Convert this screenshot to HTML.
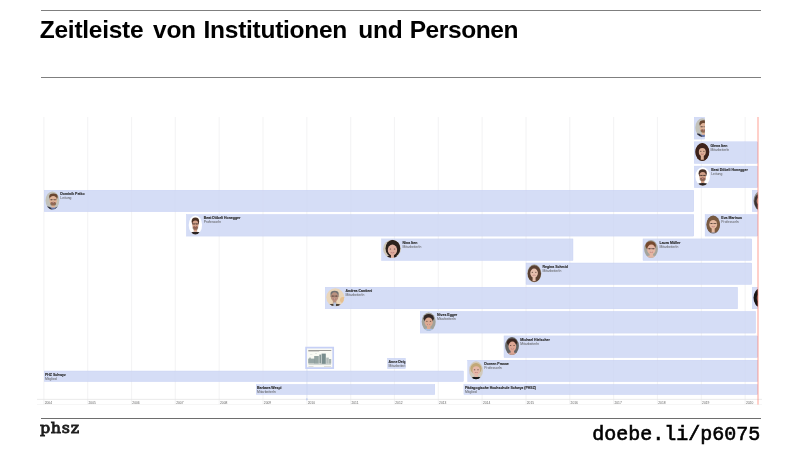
<!DOCTYPE html>
<html lang="de">
<head>
<meta charset="utf-8">
<title>Zeitleiste von Institutionen und Personen</title>
<style>
html,body{margin:0;padding:0;background:#fff;}
body{width:800px;height:450px;position:relative;overflow:hidden;font-family:"Liberation Sans",sans-serif;}
.rule{position:absolute;left:41px;width:720px;height:1px;background:#7f7f7f;}
#r1{top:10px;}
#r2{top:77px;}
#r3{top:418px;background:#6e6e6e;}
h1{position:absolute;left:39.8px;top:16px;margin:0;font-size:24.5px;line-height:28px;font-weight:bold;color:#000;white-space:nowrap;letter-spacing:-0.27px;word-spacing:2.2px;}
#logo{position:absolute;left:40.2px;top:418.4px;font-family:"DejaVu Serif",serif;font-weight:normal;font-size:15px;line-height:20px;color:#1e1e1e;-webkit-text-stroke:0.8px #1e1e1e;letter-spacing:0.6px;transform:scaleX(1.065);transform-origin:0 0;}
#url{position:absolute;right:39.8px;top:424px;font-family:"Liberation Mono",monospace;font-weight:normal;-webkit-text-stroke:0.6px #000;font-size:20px;line-height:22px;color:#000;white-space:nowrap;}
svg{position:absolute;left:0;top:0;}
svg text{font-family:"Liberation Sans",sans-serif;}
</style>
</head>
<body>
<div class="rule" id="r1"></div>
<h1><span>Zeitleiste</span> <span style="margin-left:1px">von</span> <span style="margin-left:-1px">Institutionen</span> <span style="margin-left:2.5px">und</span> <span style="margin-left:-1.5px;letter-spacing:-0.4px">Personen</span></h1>
<div class="rule" id="r2"></div>
<svg width="800" height="450" viewBox="0 0 800 450">
<rect x="43.25" y="117.0" width="1.2" height="287.60" fill="#f7f7f7"/>
<rect x="87.08" y="117.0" width="1.2" height="287.60" fill="#f7f7f7"/>
<rect x="130.91" y="117.0" width="1.2" height="287.60" fill="#f7f7f7"/>
<rect x="174.74" y="117.0" width="1.2" height="287.60" fill="#f7f7f7"/>
<rect x="218.57" y="117.0" width="1.2" height="287.60" fill="#f7f7f7"/>
<rect x="262.40" y="117.0" width="1.2" height="287.60" fill="#f7f7f7"/>
<rect x="306.23" y="117.0" width="1.2" height="287.60" fill="#f7f7f7"/>
<rect x="350.06" y="117.0" width="1.2" height="287.60" fill="#f7f7f7"/>
<rect x="393.89" y="117.0" width="1.2" height="287.60" fill="#f7f7f7"/>
<rect x="437.72" y="117.0" width="1.2" height="287.60" fill="#f7f7f7"/>
<rect x="481.55" y="117.0" width="1.2" height="287.60" fill="#f7f7f7"/>
<rect x="525.38" y="117.0" width="1.2" height="287.60" fill="#f7f7f7"/>
<rect x="569.21" y="117.0" width="1.2" height="287.60" fill="#f7f7f7"/>
<rect x="613.04" y="117.0" width="1.2" height="287.60" fill="#f7f7f7"/>
<rect x="656.87" y="117.0" width="1.2" height="287.60" fill="#f7f7f7"/>
<rect x="700.70" y="117.0" width="1.2" height="287.60" fill="#f7f7f7"/>
<rect x="744.53" y="117.0" width="1.2" height="287.60" fill="#f7f7f7"/>
<rect x="694.20" y="117.20" width="10.50" height="21.90" fill="#d5ddf6" stroke="#c6d0f4" stroke-width="0.4"/>
<rect x="694.20" y="141.80" width="63.60" height="21.70" fill="#d5ddf6" stroke="#c6d0f4" stroke-width="0.4"/>
<rect x="694.20" y="166.10" width="63.60" height="21.60" fill="#d5ddf6" stroke="#c6d0f4" stroke-width="0.4"/>
<rect x="44.20" y="190.20" width="649.60" height="21.50" fill="#d5ddf6" stroke="#c6d0f4" stroke-width="0.4"/>
<rect x="752.20" y="190.20" width="5.60" height="21.50" fill="#d5ddf6" stroke="#c6d0f4" stroke-width="0.4"/>
<rect x="186.40" y="214.45" width="507.40" height="21.65" fill="#d5ddf6" stroke="#c6d0f4" stroke-width="0.4"/>
<rect x="705.10" y="214.45" width="52.70" height="21.65" fill="#d5ddf6" stroke="#c6d0f4" stroke-width="0.4"/>
<rect x="381.50" y="238.90" width="191.50" height="21.60" fill="#d5ddf6" stroke="#c6d0f4" stroke-width="0.4"/>
<rect x="643.00" y="238.90" width="108.80" height="21.60" fill="#d5ddf6" stroke="#c6d0f4" stroke-width="0.4"/>
<rect x="526.00" y="263.00" width="225.80" height="21.50" fill="#d5ddf6" stroke="#c6d0f4" stroke-width="0.4"/>
<rect x="325.20" y="287.20" width="412.40" height="21.60" fill="#d5ddf6" stroke="#c6d0f4" stroke-width="0.4"/>
<rect x="752.20" y="287.20" width="5.60" height="21.60" fill="#d5ddf6" stroke="#c6d0f4" stroke-width="0.4"/>
<rect x="420.20" y="311.40" width="335.40" height="21.70" fill="#d5ddf6" stroke="#c6d0f4" stroke-width="0.4"/>
<rect x="504.00" y="335.90" width="253.80" height="21.70" fill="#d5ddf6" stroke="#c6d0f4" stroke-width="0.4"/>
<rect x="467.70" y="360.20" width="290.10" height="21.40" fill="#d5ddf6" stroke="#c6d0f4" stroke-width="0.4"/>
<rect x="387.50" y="358.20" width="18.00" height="10.40" fill="#d5ddf6" stroke="#c6d0f4" stroke-width="0.4"/>
<rect x="44.20" y="371.00" width="419.30" height="10.60" fill="#d5ddf6" stroke="#c6d0f4" stroke-width="0.4"/>
<rect x="256.20" y="384.40" width="178.60" height="10.20" fill="#d5ddf6" stroke="#c6d0f4" stroke-width="0.4"/>
<rect x="463.90" y="384.40" width="293.90" height="10.20" fill="#d5ddf6" stroke="#c6d0f4" stroke-width="0.4"/>
<rect x="43.35" y="117.0" width="1.0" height="287.60" fill="#c8cce0" opacity="0.05"/>
<rect x="87.18" y="117.0" width="1.0" height="287.60" fill="#c8cce0" opacity="0.05"/>
<rect x="131.01" y="117.0" width="1.0" height="287.60" fill="#c8cce0" opacity="0.05"/>
<rect x="174.84" y="117.0" width="1.0" height="287.60" fill="#c8cce0" opacity="0.05"/>
<rect x="218.67" y="117.0" width="1.0" height="287.60" fill="#c8cce0" opacity="0.05"/>
<rect x="262.50" y="117.0" width="1.0" height="287.60" fill="#c8cce0" opacity="0.05"/>
<rect x="306.33" y="117.0" width="1.0" height="287.60" fill="#c8cce0" opacity="0.05"/>
<rect x="350.16" y="117.0" width="1.0" height="287.60" fill="#c8cce0" opacity="0.05"/>
<rect x="393.99" y="117.0" width="1.0" height="287.60" fill="#c8cce0" opacity="0.05"/>
<rect x="437.82" y="117.0" width="1.0" height="287.60" fill="#c8cce0" opacity="0.05"/>
<rect x="481.65" y="117.0" width="1.0" height="287.60" fill="#c8cce0" opacity="0.05"/>
<rect x="525.48" y="117.0" width="1.0" height="287.60" fill="#c8cce0" opacity="0.05"/>
<rect x="569.31" y="117.0" width="1.0" height="287.60" fill="#c8cce0" opacity="0.05"/>
<rect x="613.14" y="117.0" width="1.0" height="287.60" fill="#c8cce0" opacity="0.05"/>
<rect x="656.97" y="117.0" width="1.0" height="287.60" fill="#c8cce0" opacity="0.05"/>
<rect x="700.80" y="117.0" width="1.0" height="287.60" fill="#c8cce0" opacity="0.05"/>
<rect x="744.63" y="117.0" width="1.0" height="287.60" fill="#c8cce0" opacity="0.05"/>
<rect x="306.7" y="368.8" width="0.6" height="30.5" fill="#b9c5f3" opacity="0.35"/>
<rect x="306.1" y="347.6" width="27.1" height="20.5" fill="#fafaf4" stroke="#c6d0f6" stroke-width="1.7"/>
<g filter="url(#bl2)"><rect x="308.3" y="350.2" width="23" height="0.6" fill="#444" opacity="0.85"/><rect x="308.3" y="351.6" width="11" height="0.35" fill="#8a8a8a"/><g fill="#566e70"><rect x="308.2" y="358.6" width="6.3" height="4.8" opacity="0.6"/><rect x="309" y="357.6" width="2" height="1.2" opacity="0.4"/><rect x="314.2" y="356" width="4.6" height="7.6" opacity="0.62"/><rect x="319.3" y="354.6" width="1.8" height="8.8" opacity="0.7"/><rect x="321.6" y="353.6" width="4.2" height="10.2" opacity="0.78"/><rect x="326.2" y="357.6" width="2.6" height="6" opacity="0.45"/><rect x="329" y="359" width="2.2" height="4.6" opacity="0.5"/><rect x="308.6" y="363.6" width="22.4" height="1.2" opacity="0.3"/><rect x="310" y="354.4" width="2.4" height="0.4" opacity="0.3"/><rect x="315" y="353.4" width="2" height="0.4" opacity="0.3"/></g><rect x="308.5" y="366.1" width="5" height="0.3" fill="#999"/><rect x="324" y="366.1" width="7" height="0.3" fill="#999"/></g>
<circle cx="306.9" cy="399.3" r="0.9" fill="#97b0f8"/>
<defs><filter id="bl" x="-20%" y="-20%" width="140%" height="140%"><feGaussianBlur stdDeviation="0.55"/></filter><filter id="bl2" x="-10%" y="-10%" width="120%" height="120%"><feGaussianBlur stdDeviation="0.3"/></filter></defs>
<clipPath id="c1"><ellipse cx="702.3" cy="127.7" rx="7" ry="9.4"/></clipPath><clipPath id="c2"><rect x="694" y="117.3" width="10.899999999999977" height="20.8"/></clipPath><g clip-path="url(#c2)"><g clip-path="url(#c1)"><rect x="694.3" y="117.3" width="16" height="20.8" fill="#c2c2ba"/><g filter="url(#bl)"><ellipse cx="703.56" cy="139.29999999999998" rx="8.049999999999999" ry="4.888000000000001" fill="#6a7ab0"/><ellipse cx="703.6999999999999" cy="123.75200000000001" rx="4.34" ry="3.384" fill="#6a4630"/><rect x="701.8599999999999" y="130.52" width="3.4" height="4.23" fill="#e0b49a"/><ellipse cx="703.56" cy="127.7" rx="3.9200000000000004" ry="4.7" fill="#e0b49a"/><ellipse cx="703.5" cy="130.802" rx="2.94" ry="1.8800000000000001" fill="#5a3c2a" opacity="0.6"/><rect x="700.0" y="126.29" width="7" height="0.9" fill="#2a2220" opacity="0.35"/><ellipse cx="697.55" cy="138.29999999999998" rx="4.8999999999999995" ry="4.7" fill="#2e3040"/><ellipse cx="709.45" cy="138.29999999999998" rx="4.8999999999999995" ry="4.7" fill="#2e3040"/><ellipse cx="701.7959999999999" cy="126.854" rx="0.75" ry="0.5" fill="#30221e" opacity="0.7"/><ellipse cx="705.324" cy="126.854" rx="0.75" ry="0.5" fill="#30221e" opacity="0.7"/><ellipse cx="703.56" cy="129.956" rx="1.6464" ry="0.55" fill="#a04848" opacity="0.65"/><ellipse cx="703.56" cy="129.862" rx="0.9800000000000001" ry="0.3" fill="#fff" opacity="0.7"/></g></g></g>
<clipPath id="c3"><ellipse cx="702.3" cy="152.0" rx="7" ry="9.0"/></clipPath><g clip-path="url(#c3)"><rect x="694.3" y="142.0" width="16" height="20.0" fill="#5a4034"/><g filter="url(#bl)"><ellipse cx="702.3" cy="163.2" rx="8.049999999999999" ry="4.68" fill="#3c241a"/><ellipse cx="702.3" cy="152.0" rx="7.0" ry="9.0" fill="#3c241a"/><rect x="700.8" y="154.376" width="3" height="5.3999999999999995" fill="#dcae96"/><ellipse cx="702.3" cy="152.0" rx="3.5" ry="3.96" fill="#dcae96"/><ellipse cx="700.7249999999999" cy="151.2872" rx="0.75" ry="0.5" fill="#30221e" opacity="0.7"/><ellipse cx="703.875" cy="151.2872" rx="0.75" ry="0.5" fill="#30221e" opacity="0.7"/><ellipse cx="702.3" cy="153.9008" rx="1.47" ry="0.55" fill="#a04848" opacity="0.65"/><ellipse cx="702.3" cy="153.8216" rx="0.875" ry="0.3" fill="#fff" opacity="0.7"/></g></g>
<clipPath id="c4"><ellipse cx="702.7" cy="176.5" rx="7.3" ry="9.2"/></clipPath><g clip-path="url(#c4)"><rect x="694.4000000000001" y="166.3" width="16.6" height="20.4" fill="#ffffff"/><g filter="url(#bl)"><ellipse cx="702.7" cy="187.89999999999998" rx="8.395" ry="4.784" fill="#2a2222"/><ellipse cx="702.7" cy="173.188" rx="4.088" ry="3.8639999999999994" fill="#4a3026"/><rect x="701.0" y="178.8552" width="3.4" height="4.14" fill="#d2a088"/><ellipse cx="702.7" cy="176.316" rx="3.358" ry="4.232" fill="#d2a088"/><ellipse cx="702.7" cy="179.336" rx="3.066" ry="1.8399999999999999" fill="#5a3a2c" opacity="0.55"/><rect x="699.0500000000001" y="174.92000000000002" width="7.3" height="0.9" fill="#2a2220" opacity="0.55"/><ellipse cx="701.1889" cy="175.55424" rx="0.75" ry="0.5" fill="#30221e" opacity="0.7"/><ellipse cx="704.2111000000001" cy="175.55424" rx="0.75" ry="0.5" fill="#30221e" opacity="0.7"/><ellipse cx="702.7" cy="178.34736" rx="1.41036" ry="0.55" fill="#a04848" opacity="0.65"/><ellipse cx="702.7" cy="178.26272" rx="0.8395" ry="0.3" fill="#fff" opacity="0.7"/></g></g>
<clipPath id="c5"><ellipse cx="52.4" cy="200.6" rx="6.9" ry="9.2"/></clipPath><g clip-path="url(#c5)"><rect x="44.5" y="190.4" width="15.8" height="20.4" fill="#c2c2ba"/><g filter="url(#bl)"><ellipse cx="53.228" cy="211.99999999999997" rx="7.935" ry="4.784" fill="#6a7ab0"/><ellipse cx="53.434999999999995" cy="196.736" rx="4.2780000000000005" ry="3.312" fill="#6a4630"/><rect x="51.528" y="203.35999999999999" width="3.4" height="4.14" fill="#e0b49a"/><ellipse cx="53.228" cy="200.6" rx="3.8640000000000008" ry="4.6" fill="#e0b49a"/><ellipse cx="53.2" cy="203.636" rx="2.898" ry="1.8399999999999999" fill="#5a3c2a" opacity="0.6"/><rect x="49.75" y="199.22" width="6.9" height="0.9" fill="#2a2220" opacity="0.35"/><ellipse cx="47.335" cy="210.99999999999997" rx="4.83" ry="4.6" fill="#2e3040"/><ellipse cx="59.065000000000005" cy="210.99999999999997" rx="4.83" ry="4.6" fill="#2e3040"/><ellipse cx="51.489200000000004" cy="199.772" rx="0.75" ry="0.5" fill="#30221e" opacity="0.7"/><ellipse cx="54.9668" cy="199.772" rx="0.75" ry="0.5" fill="#30221e" opacity="0.7"/><ellipse cx="53.228" cy="202.808" rx="1.6228800000000003" ry="0.55" fill="#a04848" opacity="0.65"/><ellipse cx="53.228" cy="202.716" rx="0.9660000000000002" ry="0.3" fill="#fff" opacity="0.7"/></g></g>
<clipPath id="c6"><ellipse cx="760.5" cy="200.8" rx="7" ry="9.3"/></clipPath><clipPath id="c7"><rect x="752" y="190.5" width="6" height="20.6"/></clipPath><g clip-path="url(#c7)"><g clip-path="url(#c6)"><rect x="752.5" y="190.5" width="16" height="20.6" fill="#8a8a86"/><g filter="url(#bl)"><ellipse cx="760.5" cy="212.3" rx="8.049999999999999" ry="4.836" fill="#2a2a2a"/><ellipse cx="760.5" cy="201.544" rx="6.3" ry="8.184000000000001" fill="#3a3030"/><rect x="759.0" y="203.60860000000002" width="3" height="5.58" fill="#b08a78"/><ellipse cx="760.5" cy="200.98600000000002" rx="3.9200000000000004" ry="4.371" fill="#b08a78"/><ellipse cx="758.736" cy="200.19922000000003" rx="0.75" ry="0.5" fill="#30221e" opacity="0.7"/><ellipse cx="762.264" cy="200.19922000000003" rx="0.75" ry="0.5" fill="#30221e" opacity="0.7"/><ellipse cx="760.5" cy="203.08408000000003" rx="1.6464" ry="0.55" fill="#a04848" opacity="0.65"/><ellipse cx="760.5" cy="202.99666000000002" rx="0.9800000000000001" ry="0.3" fill="#fff" opacity="0.7"/></g></g></g>
<clipPath id="c8"><ellipse cx="195.4" cy="225.0" rx="6.7" ry="9.5"/></clipPath><g clip-path="url(#c8)"><rect x="187.70000000000002" y="214.5" width="15.4" height="21.0" fill="#ffffff"/><g filter="url(#bl)"><ellipse cx="195.4" cy="236.7" rx="7.704999999999999" ry="4.94" fill="#2a2222"/><ellipse cx="195.4" cy="221.58" rx="3.7520000000000007" ry="3.9899999999999998" fill="#4a3026"/><rect x="193.70000000000002" y="227.43200000000002" width="3.4" height="4.275" fill="#d2a088"/><ellipse cx="195.4" cy="224.81" rx="3.0820000000000003" ry="4.37" fill="#d2a088"/><ellipse cx="195.4" cy="227.935" rx="2.814" ry="1.9000000000000001" fill="#5a3a2c" opacity="0.55"/><rect x="192.05" y="223.375" width="6.7" height="0.9" fill="#2a2220" opacity="0.55"/><ellipse cx="194.0131" cy="224.0234" rx="0.75" ry="0.5" fill="#30221e" opacity="0.7"/><ellipse cx="196.7869" cy="224.0234" rx="0.75" ry="0.5" fill="#30221e" opacity="0.7"/><ellipse cx="195.4" cy="226.9076" rx="1.29444" ry="0.55" fill="#a04848" opacity="0.65"/><ellipse cx="195.4" cy="226.8202" rx="0.7705000000000001" ry="0.3" fill="#fff" opacity="0.7"/></g></g>
<clipPath id="c9"><ellipse cx="713.2" cy="224.6" rx="6.8" ry="9.0"/></clipPath><g clip-path="url(#c9)"><rect x="705.4000000000001" y="214.6" width="15.6" height="20.0" fill="#6e5a48"/><g filter="url(#bl)"><ellipse cx="713.2" cy="235.79999999999998" rx="7.819999999999999" ry="4.68" fill="#8a9ac8"/><ellipse cx="713.2" cy="224.78" rx="6.664" ry="8.64" fill="#7a5a40"/><rect x="711.7" y="227.11999999999998" width="3" height="5.3999999999999995" fill="#e4b8a0"/><ellipse cx="713.2" cy="224.42" rx="3.9439999999999995" ry="4.5" fill="#e4b8a0"/><rect x="709.8000000000001" y="223.05" width="6.8" height="0.9" fill="#2a2220" opacity="0.4"/><ellipse cx="713.2" cy="234.6" rx="5" ry="2.2" fill="#9aa8cc"/><ellipse cx="711.4252" cy="223.60999999999999" rx="0.75" ry="0.5" fill="#30221e" opacity="0.7"/><ellipse cx="714.9748000000001" cy="223.60999999999999" rx="0.75" ry="0.5" fill="#30221e" opacity="0.7"/><ellipse cx="713.2" cy="226.57999999999998" rx="1.6564799999999997" ry="0.55" fill="#a04848" opacity="0.65"/><ellipse cx="713.2" cy="226.48999999999998" rx="0.9859999999999999" ry="0.3" fill="#fff" opacity="0.7"/></g></g>
<clipPath id="c10"><ellipse cx="392" cy="248.9" rx="9" ry="9.1"/></clipPath><g clip-path="url(#c10)"><rect x="382" y="238.8" width="20" height="20.2" fill="#cfc7b7"/><g filter="url(#bl)"><ellipse cx="392.45" cy="260.2" rx="10.35" ry="4.732" fill="#2a201c"/><ellipse cx="392.9" cy="248.445" rx="7.38" ry="8.645" fill="#2a201c"/><rect x="390.95" y="253.26800000000003" width="3" height="5.46" fill="#deae9e"/><ellipse cx="392.45" cy="249.99200000000002" rx="4.68" ry="5.46" fill="#deae9e"/><ellipse cx="390.344" cy="249.00920000000002" rx="0.75" ry="0.5" fill="#30221e" opacity="0.7"/><ellipse cx="394.556" cy="249.00920000000002" rx="0.75" ry="0.5" fill="#30221e" opacity="0.7"/><ellipse cx="392.45" cy="252.61280000000002" rx="1.9655999999999998" ry="0.55" fill="#a04848" opacity="0.65"/><ellipse cx="392.45" cy="252.5036" rx="1.17" ry="0.3" fill="#fff" opacity="0.7"/></g></g>
<clipPath id="c11"><ellipse cx="651" cy="249" rx="6.9" ry="9"/></clipPath><g clip-path="url(#c11)"><rect x="643.1" y="239" width="15.8" height="20" fill="#a4a49c"/><g filter="url(#bl)"><ellipse cx="651.345" cy="260.2" rx="7.935" ry="4.68" fill="#dab4a4"/><ellipse cx="650.655" cy="245.76" rx="5.244000000000001" ry="4.5" fill="#74482e"/><rect x="649.645" y="252.564" width="3.4" height="4.05" fill="#e4b6a4"/><ellipse cx="651.345" cy="249.54" rx="4.14" ry="5.040000000000001" fill="#e4b6a4"/><rect x="647.8499999999999" y="248.25" width="6.9" height="0.9" fill="#2a2220" opacity="0.5"/><ellipse cx="649.482" cy="248.6328" rx="0.75" ry="0.5" fill="#30221e" opacity="0.7"/><ellipse cx="653.2080000000001" cy="248.6328" rx="0.75" ry="0.5" fill="#30221e" opacity="0.7"/><ellipse cx="651.345" cy="251.95919999999998" rx="1.7388" ry="0.55" fill="#a04848" opacity="0.65"/><ellipse cx="651.345" cy="251.8584" rx="1.035" ry="0.3" fill="#fff" opacity="0.7"/></g></g>
<clipPath id="c12"><ellipse cx="534.3" cy="273.3" rx="7" ry="9"/></clipPath><g clip-path="url(#c12)"><rect x="526.3" y="263.3" width="16" height="20" fill="#a8a8a0"/><g filter="url(#bl)"><ellipse cx="534.0899999999999" cy="284.5" rx="8.049999999999999" ry="4.68" fill="#e8e4e0"/><ellipse cx="534.3" cy="273.75" rx="6.72" ry="8.459999999999999" fill="#5a4030"/><rect x="532.5899999999999" y="275.82" width="3" height="5.3999999999999995" fill="#e6bfae"/><ellipse cx="534.0899999999999" cy="273.12" rx="3.8500000000000005" ry="4.5" fill="#e6bfae"/><ellipse cx="532.3575" cy="272.31" rx="0.75" ry="0.5" fill="#30221e" opacity="0.7"/><ellipse cx="535.8224999999999" cy="272.31" rx="0.75" ry="0.5" fill="#30221e" opacity="0.7"/><ellipse cx="534.0899999999999" cy="275.28000000000003" rx="1.6170000000000002" ry="0.55" fill="#a04848" opacity="0.65"/><ellipse cx="534.0899999999999" cy="275.19" rx="0.9625000000000001" ry="0.3" fill="#fff" opacity="0.7"/></g></g>
<clipPath id="c13"><ellipse cx="335.3" cy="297.3" rx="9" ry="9"/></clipPath><g clip-path="url(#c13)"><rect x="325.3" y="287.3" width="20" height="20" fill="#ead6ba"/><g filter="url(#bl)"><ellipse cx="343" cy="300" rx="3" ry="3" fill="#e6c090"/><ellipse cx="334.58" cy="308.5" rx="10.35" ry="4.68" fill="#4a4038"/><ellipse cx="334.58" cy="293.88" rx="4.140000000000001" ry="3.2399999999999998" fill="#727272"/><rect x="332.88" y="299.55" width="3.4" height="4.05" fill="#ba9280"/><ellipse cx="334.58" cy="296.85" rx="3.78" ry="4.5" fill="#ba9280"/><rect x="330.1" y="295.65" width="9" height="0.9" fill="#2a2220" opacity="0.4"/><rect x="333.4" y="302.5" width="2.6" height="4.5" fill="#b8c4d8"/><ellipse cx="332.87899999999996" cy="296.04" rx="0.75" ry="0.5" fill="#30221e" opacity="0.7"/><ellipse cx="336.281" cy="296.04" rx="0.75" ry="0.5" fill="#30221e" opacity="0.7"/><ellipse cx="334.58" cy="299.01000000000005" rx="1.5876" ry="0.55" fill="#a04848" opacity="0.65"/><ellipse cx="334.58" cy="298.92" rx="0.945" ry="0.3" fill="#fff" opacity="0.7"/></g></g>
<clipPath id="c14"><ellipse cx="760.5" cy="297.8" rx="7" ry="9.3"/></clipPath><clipPath id="c15"><rect x="752" y="287.5" width="6" height="20.6"/></clipPath><g clip-path="url(#c15)"><g clip-path="url(#c14)"><rect x="752.5" y="287.5" width="16" height="20.6" fill="#201818"/><g filter="url(#bl)"><ellipse cx="760.5" cy="309.3" rx="8.049999999999999" ry="4.836" fill="#181212"/><ellipse cx="760.5" cy="298.54400000000004" rx="6.3" ry="8.184000000000001" fill="#181212"/><rect x="759.0" y="300.60859999999997" width="3" height="5.58" fill="#6a4a40"/><ellipse cx="760.5" cy="297.986" rx="3.9200000000000004" ry="4.371" fill="#6a4a40"/><ellipse cx="758.736" cy="297.19921999999997" rx="0.75" ry="0.5" fill="#30221e" opacity="0.7"/><ellipse cx="762.264" cy="297.19921999999997" rx="0.75" ry="0.5" fill="#30221e" opacity="0.7"/><ellipse cx="760.5" cy="300.08408" rx="1.6464" ry="0.55" fill="#a04848" opacity="0.65"/><ellipse cx="760.5" cy="299.99665999999996" rx="0.9800000000000001" ry="0.3" fill="#fff" opacity="0.7"/></g></g></g>
<clipPath id="c16"><ellipse cx="428.7" cy="321.8" rx="7" ry="9.2"/></clipPath><g clip-path="url(#c16)"><rect x="420.7" y="311.6" width="16" height="20.4" fill="#a2a29a"/><g filter="url(#bl)"><ellipse cx="428.7" cy="333.2" rx="8.049999999999999" ry="4.784" fill="#a8c2ea"/><ellipse cx="428.7" cy="318.30400000000003" rx="5.18" ry="4.232" fill="#302626"/><rect x="427.0" y="325.0384" width="3.4" height="4.14" fill="#dcaa92"/><ellipse cx="428.7" cy="322.168" rx="4.06" ry="4.784" fill="#dcaa92"/><ellipse cx="426.873" cy="321.30688" rx="0.75" ry="0.5" fill="#30221e" opacity="0.7"/><ellipse cx="430.527" cy="321.30688" rx="0.75" ry="0.5" fill="#30221e" opacity="0.7"/><ellipse cx="428.7" cy="324.46432" rx="1.7051999999999998" ry="0.55" fill="#a04848" opacity="0.65"/><ellipse cx="428.7" cy="324.36864" rx="1.015" ry="0.3" fill="#fff" opacity="0.7"/></g></g>
<clipPath id="c17"><ellipse cx="512" cy="346" rx="6.9" ry="9"/></clipPath><g clip-path="url(#c17)"><rect x="504.1" y="336" width="15.8" height="20" fill="#646464"/><g filter="url(#bl)"><ellipse cx="512.345" cy="357.2" rx="7.935" ry="4.68" fill="#d09c8c"/><ellipse cx="512.0" cy="342.4" rx="5.106" ry="3.96" fill="#3a2820"/><rect x="510.64500000000004" y="349.366" width="3.4" height="4.05" fill="#dea694"/><ellipse cx="512.345" cy="346.45" rx="3.8640000000000008" ry="4.86" fill="#dea694"/><ellipse cx="510.6062" cy="345.5752" rx="0.75" ry="0.5" fill="#30221e" opacity="0.7"/><ellipse cx="514.0838" cy="345.5752" rx="0.75" ry="0.5" fill="#30221e" opacity="0.7"/><ellipse cx="512.345" cy="348.7828" rx="1.6228800000000003" ry="0.55" fill="#a04848" opacity="0.65"/><ellipse cx="512.345" cy="348.68559999999997" rx="0.9660000000000002" ry="0.3" fill="#fff" opacity="0.7"/></g></g>
<clipPath id="c18"><ellipse cx="476" cy="370.3" rx="7" ry="9"/></clipPath><g clip-path="url(#c18)"><rect x="468" y="360.3" width="16" height="20" fill="#d2cabc"/><g filter="url(#bl)"><ellipse cx="476.28" cy="381.5" rx="8.049999999999999" ry="4.68" fill="#181818"/><ellipse cx="476" cy="368.5" rx="5.6000000000000005" ry="5.3999999999999995" fill="#c2a878"/><rect x="474.58" y="373.072" width="3.4" height="4.05" fill="#e6b8a8"/><ellipse cx="476.28" cy="370.48" rx="3.7800000000000002" ry="4.32" fill="#e6b8a8"/><ellipse cx="476" cy="380.2" rx="6" ry="2.6" fill="#161616"/><ellipse cx="474.57899999999995" cy="369.7024" rx="0.75" ry="0.5" fill="#30221e" opacity="0.7"/><ellipse cx="477.981" cy="369.7024" rx="0.75" ry="0.5" fill="#30221e" opacity="0.7"/><ellipse cx="476.28" cy="372.5536" rx="1.5876000000000001" ry="0.55" fill="#a04848" opacity="0.65"/><ellipse cx="476.28" cy="372.4672" rx="0.9450000000000001" ry="0.3" fill="#fff" opacity="0.7"/></g></g>
<text x="710.4" y="146.85" font-size="3.5" font-weight="bold" fill="#2a2a2a" stroke="#2a2a2a" stroke-width="0.12">Glena Iten</text>
<text x="710.4" y="150.80" font-size="3.4" fill="#555">MitarbeiterIn</text>
<text x="711.2" y="171.05" font-size="3.5" font-weight="bold" fill="#2a2a2a" stroke="#2a2a2a" stroke-width="0.12">Beat Döbeli Honegger</text>
<text x="711.2" y="175.00" font-size="3.4" fill="#555">Leitung</text>
<text x="60.3" y="195.25" font-size="3.5" font-weight="bold" fill="#2a2a2a" stroke="#2a2a2a" stroke-width="0.12">Dominik Petko</text>
<text x="60.3" y="199.20" font-size="3.4" fill="#555">Leitung</text>
<text x="203.8" y="219.45" font-size="3.5" font-weight="bold" fill="#2a2a2a" stroke="#2a2a2a" stroke-width="0.12">Beat Döbeli Honegger</text>
<text x="203.8" y="223.40" font-size="3.4" fill="#555">ProfessorIn</text>
<text x="721.3" y="219.45" font-size="3.5" font-weight="bold" fill="#2a2a2a" stroke="#2a2a2a" stroke-width="0.12">Eva Marinus</text>
<text x="721.3" y="223.40" font-size="3.4" fill="#555">ProfessorIn</text>
<text x="402.5" y="243.85" font-size="3.5" font-weight="bold" fill="#2a2a2a" stroke="#2a2a2a" stroke-width="0.12">Nina Iten</text>
<text x="402.5" y="247.80" font-size="3.4" fill="#555">MitarbeiterIn</text>
<text x="659.5" y="243.85" font-size="3.5" font-weight="bold" fill="#2a2a2a" stroke="#2a2a2a" stroke-width="0.12">Laura Müller</text>
<text x="659.5" y="247.80" font-size="3.4" fill="#555">MitarbeiterIn</text>
<text x="542.5" y="267.95" font-size="3.5" font-weight="bold" fill="#2a2a2a" stroke="#2a2a2a" stroke-width="0.12">Regina Schmid</text>
<text x="542.5" y="271.90" font-size="3.4" fill="#555">MitarbeiterIn</text>
<text x="345.5" y="292.25" font-size="3.5" font-weight="bold" fill="#2a2a2a" stroke="#2a2a2a" stroke-width="0.12">Andrea Cantieni</text>
<text x="345.5" y="296.20" font-size="3.4" fill="#555">MitarbeiterIn</text>
<text x="437.0" y="316.45" font-size="3.5" font-weight="bold" fill="#2a2a2a" stroke="#2a2a2a" stroke-width="0.12">Nives Egger</text>
<text x="437.0" y="320.40" font-size="3.4" fill="#555">MitarbeiterIn</text>
<text x="520.3" y="340.85" font-size="3.5" font-weight="bold" fill="#2a2a2a" stroke="#2a2a2a" stroke-width="0.12">Michael Hielscher</text>
<text x="520.3" y="344.80" font-size="3.4" fill="#555">MitarbeiterIn</text>
<text x="484.3" y="365.15" font-size="3.5" font-weight="bold" fill="#2a2a2a" stroke="#2a2a2a" stroke-width="0.12">Doreen Prasse</text>
<text x="484.3" y="369.10" font-size="3.4" fill="#555">ProfessorIn</text>
<clipPath id="ad"><rect x="387.3" y="358" width="18.1" height="10.8"/></clipPath>
<g clip-path="url(#ad)">
<text x="388.6" y="362.85" font-size="3.5" font-weight="bold" fill="#2a2a2a" stroke="#2a2a2a" stroke-width="0.12">Anne Deig</text>
<text x="388.6" y="366.80" font-size="3.4" fill="#555">MitarbeiterIn</text>
</g>
<text x="45.0" y="375.65" font-size="3.5" font-weight="bold" fill="#2a2a2a" stroke="#2a2a2a" stroke-width="0.12">PHZ Schwyz</text>
<text x="45.0" y="379.60" font-size="3.4" fill="#555">Mitglied</text>
<text x="257.1" y="389.05" font-size="3.5" font-weight="bold" fill="#2a2a2a" stroke="#2a2a2a" stroke-width="0.12">Barbara Wespi</text>
<text x="257.1" y="393.00" font-size="3.4" fill="#555">MitarbeiterIn</text>
<text x="465.0" y="389.05" font-size="3.5" font-weight="bold" fill="#2a2a2a" stroke="#2a2a2a" stroke-width="0.12">Pädagogische Hochschule Schwyz (PHSZ)</text>
<text x="465.0" y="393.00" font-size="3.4" fill="#555">Mitglied</text>
<rect x="37" y="398.90" width="725" height="0.7" fill="#e2e2e2"/>
<rect x="37" y="404.30" width="725" height="0.6" fill="#f0f0f0"/>
<text x="44.65" y="403.75" font-size="3.3" fill="#666">2004</text>
<text x="88.48" y="403.75" font-size="3.3" fill="#666">2005</text>
<text x="132.31" y="403.75" font-size="3.3" fill="#666">2006</text>
<text x="176.14" y="403.75" font-size="3.3" fill="#666">2007</text>
<text x="219.97" y="403.75" font-size="3.3" fill="#666">2008</text>
<text x="263.80" y="403.75" font-size="3.3" fill="#666">2009</text>
<text x="307.63" y="403.75" font-size="3.3" fill="#666">2010</text>
<text x="351.46" y="403.75" font-size="3.3" fill="#666">2011</text>
<text x="395.29" y="403.75" font-size="3.3" fill="#666">2012</text>
<text x="439.12" y="403.75" font-size="3.3" fill="#666">2013</text>
<text x="482.95" y="403.75" font-size="3.3" fill="#666">2014</text>
<text x="526.78" y="403.75" font-size="3.3" fill="#666">2015</text>
<text x="570.61" y="403.75" font-size="3.3" fill="#666">2016</text>
<text x="614.44" y="403.75" font-size="3.3" fill="#666">2017</text>
<text x="658.27" y="403.75" font-size="3.3" fill="#666">2018</text>
<text x="702.10" y="403.75" font-size="3.3" fill="#666">2019</text>
<text x="745.93" y="403.75" font-size="3.3" fill="#666">2020</text>
<rect x="757.0" y="117.0" width="2.0" height="287.60" fill="#ff7f6e" opacity="0.37"/>
</svg>
<div class="rule" id="r3"></div>
<div id="logo">phsz</div>
<div id="url">doebe.li/p6075</div>
</body>
</html>
